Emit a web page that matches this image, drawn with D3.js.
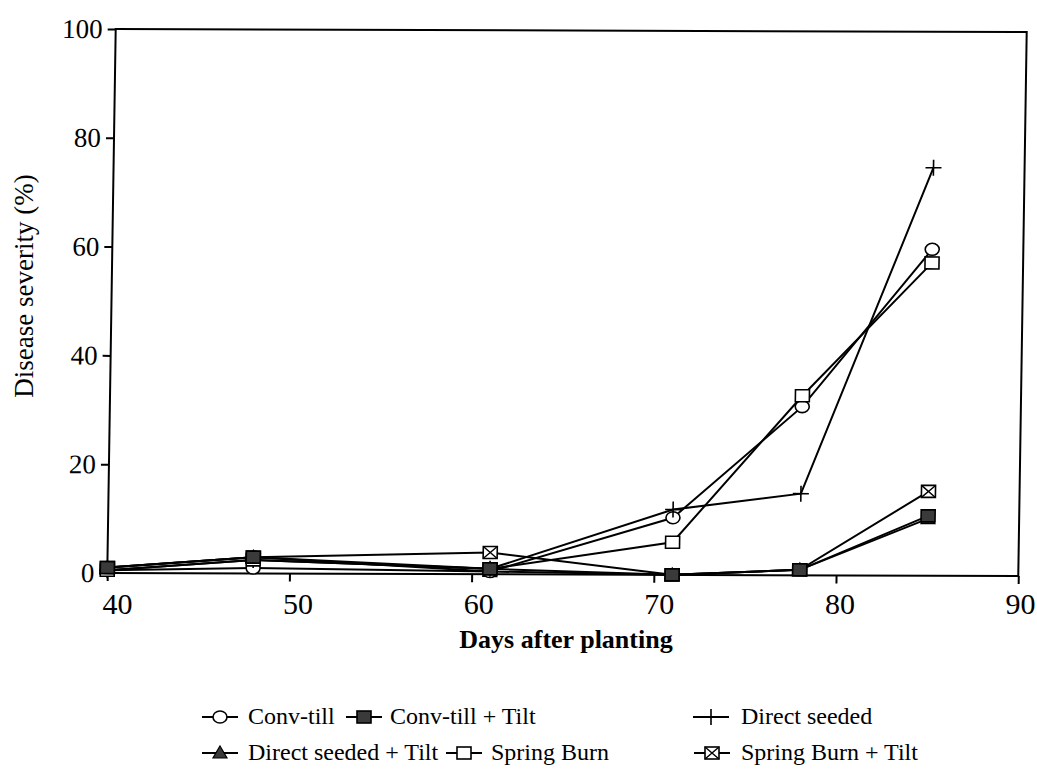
<!DOCTYPE html>
<html>
<head>
<meta charset="utf-8">
<script src="https://cdn.jsdelivr.net/npm/d3@7"></script>
<style>
  html, body { margin: 0; padding: 0; background: #fff; }
  svg { display: block; }
</style>
</head>
<body>
<svg id="chart" width="1037" height="771"></svg>
<script>
// Sampling days and disease severity (%) per treatment
const days = [40, 48, 61, 71, 78, 85];
const convTill         = [0.5, 1, 0.5, 10.5, 31, 60];
const convTillTilt     = [1, 3, 1, 0, 1, 11];
const directSeeded     = [0.5, 2.5, 1, 12, 15, 75];
const directSeededTilt = [1, 3, 0.5, 0, 1, 10.5];
const springBurn       = [0.5, 2.5, 1, 6, 33, 57.5];
const springBurnTilt   = [1, 3, 4, 0, 1, 15.5];

const xTicks = [40, 50, 60, 70, 80, 90];
const yTicks = [0, 20, 40, 60, 80, 100];

const seriesNames = ["Conv-till", "Conv-till + Tilt", "Direct seeded",
                     "Direct seeded + Tilt", "Spring Burn", "Spring Burn + Tilt"];
const seriesValues = [convTill, convTillTilt, directSeeded,
                      directSeededTilt, springBurn, springBurnTilt];
const seriesMarkers = ["circle", "fillSquare", "plus", "triangle", "square", "crossSquare"];

const FONT = '"Liberation Serif", serif';
const svg = d3.select("#chart");
const W = 911, H = 544;

// Plot frame, with the slight skew of the printed figure
const plot = svg.append("g")
  .attr("transform", "matrix(1,0.0033,-0.0155,1,115.7,29)");

const x = d3.scaleLinear().domain([40, 90]).range([0, W]);
const y = d3.scaleLinear().domain([0, 100]).range([H, 0]);

plot.append("rect")
  .attr("x", 0).attr("y", 0).attr("width", W).attr("height", H)
  .attr("fill", "none").attr("stroke", "#000").attr("stroke-width", 2);

// x ticks (marks only) inside the skewed frame
const xAxis = plot.append("g")
  .attr("transform", `translate(0,${H})`)
  .call(d3.axisBottom(x).tickValues(xTicks).tickSize(8).tickSizeOuter(0).tickFormat(""));
xAxis.select(".domain").remove();
xAxis.selectAll("line").attr("stroke", "#000").attr("stroke-width", 2);

// x tick labels sit on a straight baseline
const xl = d3.scaleLinear().domain([40, 90]).range([117, 1020]);
const xLabels = svg.append("g")
  .attr("transform", "translate(0,574)")
  .call(d3.axisBottom(xl).tickValues(xTicks).tickSize(0).tickPadding(19));
xLabels.select(".domain").remove();
xLabels.attr("font-family", null).attr("font-size", null);
xLabels.selectAll("text").style("font-family", FONT).style("font-size", "30px").attr("fill", "#000");

const yAxis = plot.append("g")
  .call(d3.axisLeft(y).tickValues(yTicks).tickSize(8).tickSizeOuter(0).tickPadding(5));
yAxis.select(".domain").remove();
yAxis.attr("font-family", null).attr("font-size", null);
yAxis.selectAll("line").attr("stroke", "#000").attr("stroke-width", 2);
yAxis.selectAll("text").style("font-family", FONT).style("font-size", "27px").attr("fill", "#000");

svg.append("text")
  .attr("x", 566).attr("y", 648)
  .attr("text-anchor", "middle")
  .style("font-family", FONT).style("font-size", "26px").style("font-weight", "bold")
  .text("Days after planting");

svg.append("text")
  .attr("transform", "translate(33,286) rotate(-90)")
  .attr("text-anchor", "middle")
  .style("font-family", FONT).style("font-size", "27px")
  .text("Disease severity (%)");

// Marker drawing
function drawMarker(g, type, cx, cy) {
  const s = 7;
  if (type === "circle") {
    g.append("ellipse").attr("cx", cx).attr("cy", cy).attr("rx", 7).attr("ry", 6)
      .attr("fill", "#fff").attr("stroke", "#000").attr("stroke-width", 1.6);
  } else if (type === "square") {
    g.append("rect").attr("x", cx - s).attr("y", cy - 6).attr("width", 2 * s).attr("height", 12)
      .attr("fill", "#fff").attr("stroke", "#000").attr("stroke-width", 1.6);
  } else if (type === "fillSquare") {
    g.append("rect").attr("x", cx - s).attr("y", cy - 6).attr("width", 2 * s).attr("height", 12)
      .attr("fill", "#3a3a3a").attr("stroke", "#000").attr("stroke-width", 1.6);
  } else if (type === "crossSquare") {
    g.append("rect").attr("x", cx - s).attr("y", cy - 6).attr("width", 2 * s).attr("height", 12)
      .attr("fill", "#fff").attr("stroke", "#000").attr("stroke-width", 1.6);
    g.append("path")
      .attr("d", `M${cx - s},${cy - 6}L${cx + s},${cy + 6}M${cx + s},${cy - 6}L${cx - s},${cy + 6}`)
      .attr("stroke", "#000").attr("stroke-width", 1.4);
  } else if (type === "triangle") {
    g.append("path")
      .attr("d", `M${cx},${cy - 7}L${cx + 7},${cy + 5}L${cx - 7},${cy + 5}Z`)
      .attr("fill", "#3a3a3a").attr("stroke", "#000").attr("stroke-width", 1.2);
  } else if (type === "plus") {
    g.append("path")
      .attr("d", `M${cx - 8},${cy}L${cx + 8},${cy}M${cx},${cy - 8}L${cx},${cy + 8}`)
      .attr("stroke", "#000").attr("stroke-width", 1.6);
  }
}

const line = d3.line()
  .x((d, i) => x(days[i]))
  .y(d => y(d));

const linesG = plot.append("g");
seriesValues.forEach(vals => {
  linesG.append("path")
    .attr("d", line(vals))
    .attr("fill", "none").attr("stroke", "#000").attr("stroke-width", 2);
});

// markers: triangles first so filled squares sit on top where they coincide
const markerOrder = [3, 0, 2, 4, 5, 1];
const marksG = plot.append("g");
markerOrder.forEach(k => {
  seriesValues[k].forEach((v, i) => drawMarker(marksG, seriesMarkers[k], x(days[i]), y(v)));
});

// Legend
const legendItems = [
  { k: 0, sx: 202, tx: 248, ty: 724 },
  { k: 1, sx: 346, tx: 390, ty: 724 },
  { k: 2, sx: 693, tx: 741, ty: 724 },
  { k: 3, sx: 202, tx: 248, ty: 760 },
  { k: 4, sx: 446, tx: 491, ty: 760 },
  { k: 5, sx: 694, tx: 741, ty: 760 }
];
const legend = svg.append("g");
legendItems.forEach(it => {
  const cy = it.ty - 7;
  legend.append("line")
    .attr("x1", it.sx).attr("x2", it.sx + 36).attr("y1", cy).attr("y2", cy)
    .attr("stroke", "#000").attr("stroke-width", 1.8);
  drawMarker(legend, seriesMarkers[it.k], it.sx + 18, cy);
  legend.append("text")
    .attr("x", it.tx).attr("y", it.ty)
    .style("font-family", FONT).style("font-size", "24px")
    .text(seriesNames[it.k]);
});
</script>
</body>
</html>
